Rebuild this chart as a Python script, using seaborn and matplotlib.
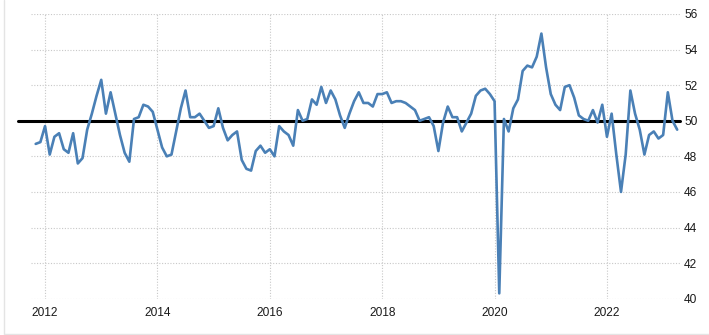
import matplotlib
matplotlib.use("Agg")
import matplotlib.pyplot as plt
from matplotlib.lines import Line2D
import seaborn as sns
import pandas as pd
import numpy as np

# ---- data (monthly, starting Nov 2011) ----
start_month = "2011-11-01"
pmi_2011 = [48.7, 48.8]
pmi_2012 = [49.7, 48.1, 49.1, 49.3, 48.4, 48.2, 49.3, 47.6, 47.9, 49.5, 50.4, 51.4]
pmi_2013 = [52.3, 50.4, 51.6, 50.4, 49.2, 48.2, 47.7, 50.1, 50.2, 50.9, 50.8, 50.5]
pmi_2014 = [49.5, 48.5, 48.0, 48.1, 49.4, 50.7, 51.7, 50.2, 50.2, 50.4, 50.0, 49.6]
pmi_2015 = [49.7, 50.7, 49.6, 48.9, 49.2, 49.4, 47.8, 47.3, 47.2, 48.3, 48.6, 48.2]
pmi_2016 = [48.4, 48.0, 49.7, 49.4, 49.2, 48.6, 50.6, 50.0, 50.1, 51.2, 50.9, 51.9]
pmi_2017 = [51.0, 51.7, 51.2, 50.3, 49.6, 50.4, 51.1, 51.6, 51.0, 51.0, 50.8, 51.5]
pmi_2018 = [51.5, 51.6, 51.0, 51.1, 51.1, 51.0, 50.8, 50.6, 50.0, 50.1, 50.2, 49.7]
pmi_2019 = [48.3, 49.9, 50.8, 50.2, 50.2, 49.4, 49.9, 50.4, 51.4, 51.7, 51.8, 51.5]
pmi_2020 = [51.1, 40.3, 50.1, 49.4, 50.7, 51.2, 52.8, 53.1, 53.0, 53.6, 54.9, 53.0]
pmi_2021 = [51.5, 50.9, 50.6, 51.9, 52.0, 51.3, 50.3, 50.1, 50.0, 50.6, 49.9, 50.9]
pmi_2022 = [49.1, 50.4, 48.1, 46.0, 48.1, 51.7, 50.4, 49.5, 48.1, 49.2, 49.4, 49.0]
pmi_2023 = [49.2, 51.6, 50.0, 49.5]

year_ticks = [2012, 2014, 2016, 2018, 2020, 2022]
year_labels = ["2012", "2014", "2016", "2018", "2020", "2022"]
y_ticks = [40, 42, 44, 46, 48, 50, 52, 54, 56]
reference_level = 50

values = (pmi_2011 + pmi_2012 + pmi_2013 + pmi_2014 + pmi_2015 + pmi_2016 +
          pmi_2017 + pmi_2018 + pmi_2019 + pmi_2020 + pmi_2021 + pmi_2022 + pmi_2023)
dates = pd.date_range(start_month, periods=len(values), freq="MS")
df = pd.DataFrame({"t": dates.year + (dates.month - 1) / 12.0, "value": values})

# ---- figure ----
sns.set_style("white")
plt.rcParams["font.family"] = ["Liberation Sans", "DejaVu Sans"]

W, H = 709, 335
fig = plt.figure(figsize=(W / 100, H / 100), dpi=100)
left_px, right_px, top_px, bottom_px = 31, 680, 14, 298.7
ax = fig.add_axes([left_px / W, 1 - bottom_px / H,
                   (right_px - left_px) / W, (bottom_px - top_px) / H])

sns.lineplot(data=df, x="t", y="value", ax=ax, color="#4a80b6",
             linewidth=1.9, zorder=3)

ax.set_xlim(2011.75, 2023.30)
ax.set_ylim(40, 56)
ax.set_xticks(year_ticks)
ax.set_xticklabels(year_labels)
ax.set_yticks(y_ticks)
ax.set_yticklabels([str(v) for v in y_ticks])
ax.yaxis.tick_right()
ax.tick_params(axis="both", length=0, labelsize=8.6, colors="#1a1a1a")
ax.tick_params(axis="x", pad=6)
ax.tick_params(axis="y", pad=3)
ax.set_xlabel("")
ax.set_ylabel("")

ax.grid(True, color="#c8c8c8", linestyle=(0, (1, 1.5)), linewidth=0.8)
for s in ax.spines.values():
    s.set_visible(False)

# black reference line at 50 (extends a bit past the left of the plot area)
ax.axhline(reference_level, xmin=-13 / (right_px - left_px), xmax=1.0,
           color="black", linewidth=2.2, zorder=2, clip_on=False)

# faint frame lines at left and bottom
fig.add_artist(Line2D([3.5 / W, 3.5 / W], [1.5 / H, 1.0], transform=fig.transFigure,
                      color="#e4e4e4", linewidth=1.0))
fig.add_artist(Line2D([3.5 / W, 1.0], [1.5 / H, 1.5 / H], transform=fig.transFigure,
                      color="#e4e4e4", linewidth=1.0))

fig.savefig("out.png", dpi=100, facecolor="white")
